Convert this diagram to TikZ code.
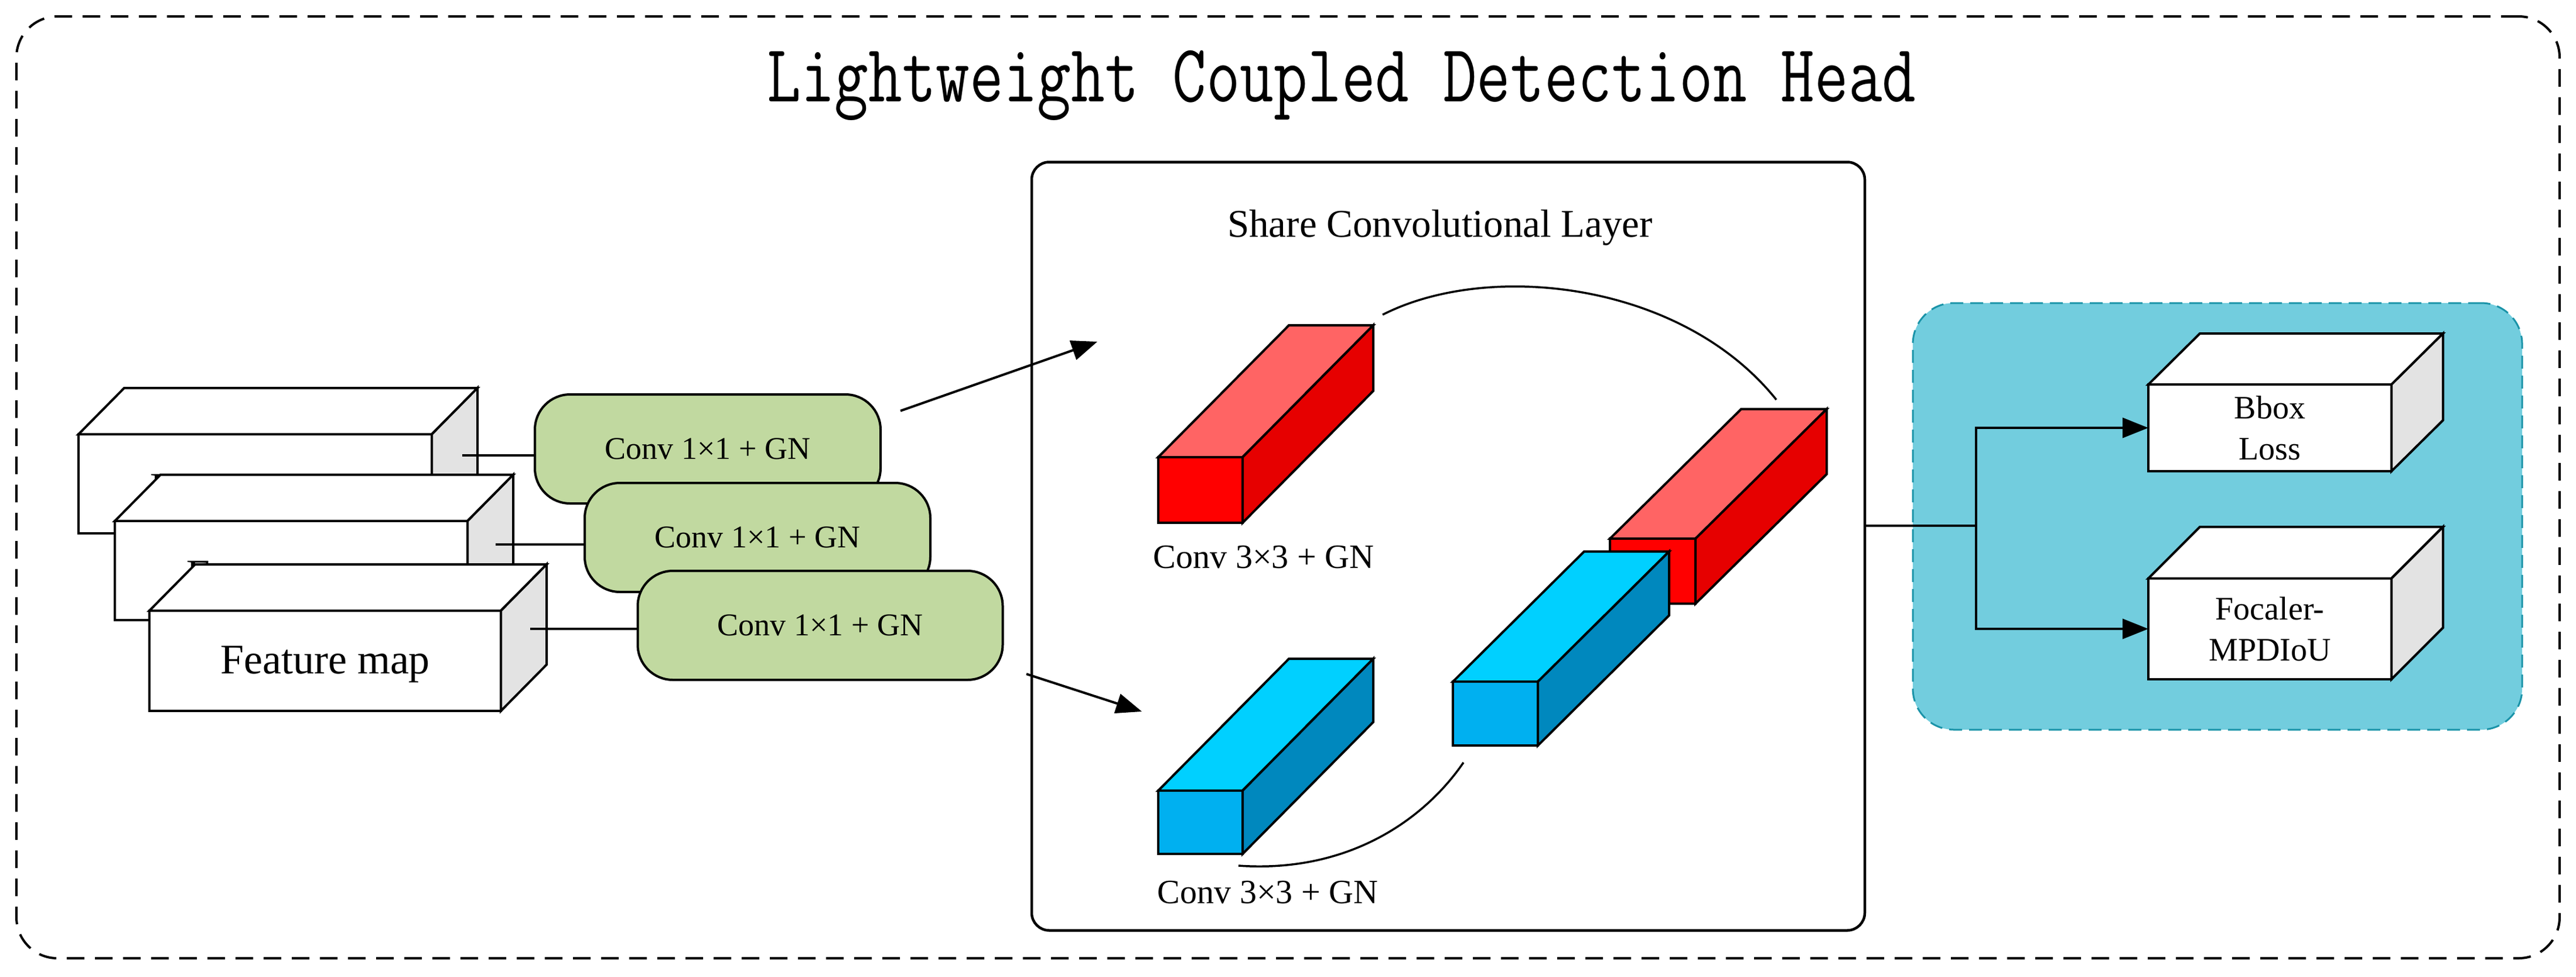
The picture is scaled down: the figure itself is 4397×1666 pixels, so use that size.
\documentclass[tikz,border=0pt]{standalone}
\usepackage{fontspec}
\setmainfont{Liberation Serif}
\usetikzlibrary{arrows.meta}
\definecolor{gr}{HTML}{C1D9A0}
\definecolor{cy}{HTML}{72CDDE}
\definecolor{cyb}{HTML}{1A93A8}
\tikzset{
  whiteF/.style={fill=white},whiteT/.style={fill=white,draw},whiteS/.style={fill=black!11,draw},
  redF/.style={fill=red},redT/.style={fill={rgb,255:red,255;green,100;blue,100},draw},redS/.style={fill={rgb,255:red,230;green,0;blue,0},draw},
  blueF/.style={fill={rgb,255:red,0;green,176;blue,240}},blueT/.style={fill={rgb,255:red,0;green,208;blue,255},draw},blueS/.style={fill={rgb,255:red,0;green,136;blue,190},draw},
  green/.style={draw,fill=gr,rounded corners=60,minimum width=590,minimum height=186,font=\fontsize{54}{60}\selectfont},
  arr/.style={-{Triangle[length=44,width=34]}},
  lbl/.style={font=\fontsize{58}{66}\selectfont}
}
\newcommand{\cub}[9]{%
  \draw[#8T] (#2,#3) -- ++(#6,#7) -- ++({#4-#2},0) -- (#4,#3) -- cycle;
  \draw[#8S] (#4,#3) -- ++(#6,#7) -- ++(0,{#5-#3}) -- (#4,#5) -- cycle;
  \node[#8F,draw,inner sep=0,outer sep=0,minimum width={(#4-#2)*1pt},minimum height={(#5-#3)*1pt},align=center] (#1) at ({(#2+#4)/2},{(#3+#5)/2}) {#9};}
\begin{document}
\begin{tikzpicture}[x=1pt,y=-1pt,line width=4pt,line join=miter]
\useasboundingbox (0,0) rectangle (4397,1666);
\node[draw,dash pattern=on 30 off 18,rounded corners=70,minimum width=4341,minimum height=1607,inner sep=0] (outer) at (2198.5,831.5) {};
\node[font=\ttfamily\fontsize{112}{120}\selectfont,yscale=1.25] (title) at (2290,146) {Lightweight Coupled Detection Head};
% feature maps
\begin{scope}[font=\fontsize{72}{80}\selectfont]
\cub{fm1}{134}{741}{737}{910}{78}{-79}{white}{\raisebox{-31pt}[0pt][0pt]{Feature map}}
\cub{fm2}{196}{889}{798}{1058}{78}{-79}{white}{\raisebox{-31pt}[0pt][0pt]{Feature map}}
\cub{fm3}{255}{1042}{855}{1213}{78}{-79}{white}{\raisebox{-22pt}[0pt][0pt]{Feature map}}
\end{scope}
\coordinate (s1) at (789,777); \coordinate (s2) at (846,929); \coordinate (s3) at (905,1073);
\node[green] (g1) at (1208,766) {Conv 1×1 + GN};
\node[green] (g2) at (1293,917) {Conv 1×1 + GN};
\node[green,minimum width=623] (g3) at (1400,1067) {Conv 1×1 + GN};
\draw (s1) -- (s1 -| g1.west);
\draw (s2) -- (s2 -| g2.west);
\draw (s3) -- (s3 -| g3.west);
% share box
\node[draw,line width=4.5pt,rounded corners=30,minimum width=1422,minimum height=1311,inner sep=0] (share) at (2472,932) {};
\node[font=\fontsize{67}{75}\selectfont] (stitle) at (2458,388) {Share Convolutional Layer};
\coordinate (a1s) at (1537,701); \coordinate (a1e) at (1873,583);
\coordinate (a2s) at (1752,1150); \coordinate (a2e) at (1949,1214);
\draw[arr] (a1s) -- (a1e);
\draw[arr] (a2s) -- (a2e);
\cub{r1}{1977}{780}{2121}{892}{223}{-225}{red}{}
\cub{b1}{1977}{1349}{2121}{1457}{223}{-225}{blue}{}
\cub{r2}{2748}{919}{2894}{1030}{224}{-221}{red}{}
\cub{b2}{2480}{1163}{2625}{1272}{224}{-222}{blue}{}
\node[lbl] (l1) at (2157,951) {Conv 3×3 + GN};
\node[lbl] (l2) at (2164,1523) {Conv 3×3 + GN};
\coordinate (t1) at (2360,537); \coordinate (t2) at (3032,682);
\coordinate (u1) at (2114,1477); \coordinate (u2) at (2498,1301);
\draw[line width=3.5pt] (t1) .. controls (2540,445) and (2870,480) .. (t2);
\draw[line width=3.5pt] (u1) .. controls (2300,1490) and (2430,1400) .. (u2);
% loss box
\node[draw=cyb,fill=cy,dash pattern=on 22 off 12,line width=3pt,rounded corners=70,minimum width=1040,minimum height=728,inner sep=0] (loss) at (3785,881) {};
\begin{scope}[font=\fontsize{56}{70}\selectfont]
\cub{bb}{3667}{656}{4082}{804}{88}{-87}{white}{Bbox\\Loss}
\cub{fo}{3667}{987}{4082}{1159}{88}{-88}{white}{Focaler-\\MPDIoU}
\end{scope}
\coordinate (j) at (3373,897);
\coordinate (ja) at (3373,730); \coordinate (jb) at (3373,1073);
\draw (share.east |- j) -- (j);
\draw[arr] (j) -- (ja) -- (ja -| bb.west);
\draw[arr] (j) -- (jb) -- (jb -| fo.west);
\end{tikzpicture}
\end{document}
